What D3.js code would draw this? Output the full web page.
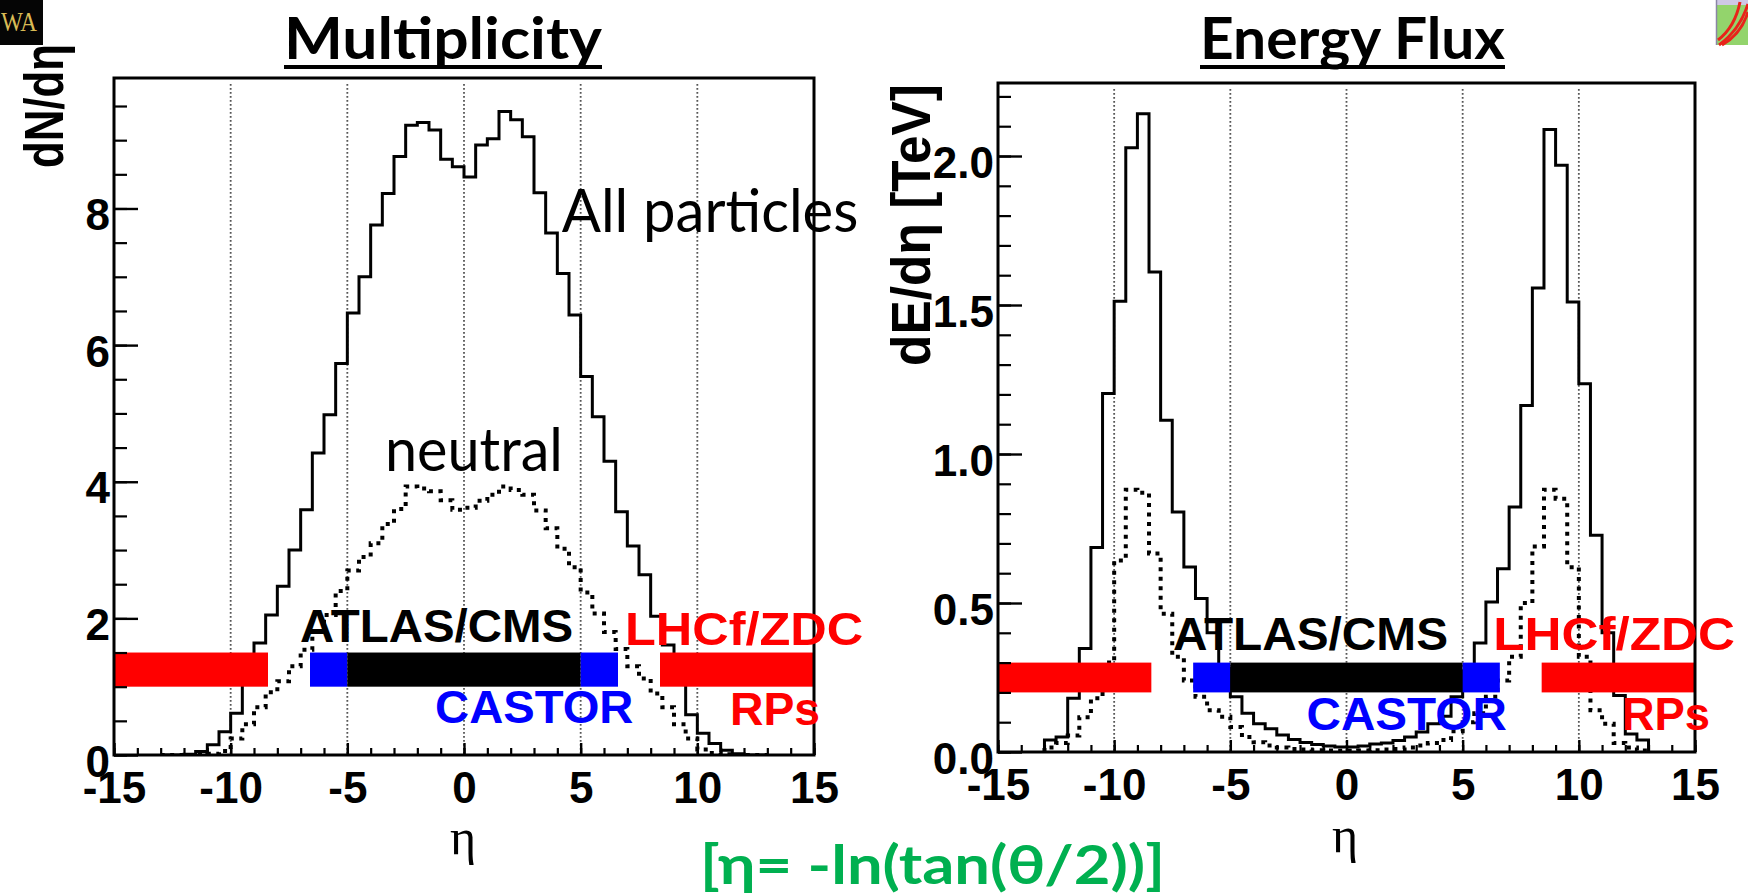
<!DOCTYPE html>
<html><head><meta charset="utf-8">
<script src="https://cdn.jsdelivr.net/npm/d3@7"></script>
<style>html,body{margin:0;padding:0;background:#fff;} svg{display:block;} text{font-variant-ligatures:none;font-feature-settings:"liga" 0,"clig" 0;}</style>
</head><body><svg id="c" width="1748" height="896"></svg>
<script>
// ---------- DATA ----------
// histogram bin lower edges in eta (bin width 0.5)
const etaBins = [-13,-12.5,-12,-11.5,-11,-10.5,-10,-9.5,-9,-8.5,
  -8,-7.5,-7,-6.5,-6,-5.5,-5,-4.5,-4,-3.5,
  -3,-2.5,-2,-1.5,-1,-0.5,0,0.5,1,1.5,
  2,2.5,3,3.5,4,4.5,5,5.5,6,6.5,
  7,7.5,8,8.5,9,9.5,10,10.5,11,11.5,
  12,12.5];
const etaBinWidth = 0.5;
// Multiplicity dN/deta, all particles
const multAll = [0,0,0.01,0.05,0.15,0.34,0.61,1.2,1.64,2.05,
  2.47,3.0,3.59,4.42,4.98,5.73,6.47,7.0,7.76,8.22,
  8.76,9.22,9.26,9.15,8.72,8.61,8.46,8.93,9.02,9.42,
  9.30,9.05,8.23,7.64,7.05,6.44,5.54,4.95,4.30,3.56,
  3.06,2.64,2.03,1.61,1.2,0.59,0.32,0.17,0.07,0.02,
  0,0];
// Multiplicity, neutral
const multNeutral = [0,0,0,0.01,0.02,0.06,0.24,0.45,0.7,0.92,
  1.08,1.3,1.54,1.8,2.05,2.4,2.7,2.9,3.1,3.38,
  3.6,3.93,3.9,3.86,3.73,3.59,3.62,3.72,3.81,3.93,
  3.88,3.81,3.58,3.32,3.02,2.75,2.38,2.07,1.8,1.55,
  1.3,1.12,0.9,0.7,0.45,0.24,0.08,0.03,0.01,0,
  0,0];
// Energy flux dE/deta [TeV], all particles
const energyAll = [0.04,0.05,0.18,0.347,0.686,1.203,1.513,2.028,2.142,1.611,
  1.113,0.805,0.621,0.515,0.40,0.28,0.185,0.13,0.095,0.078,
  0.057,0.042,0.032,0.025,0.02,0.017,0.017,0.02,0.027,0.03,
  0.039,0.05,0.067,0.095,0.12,0.185,0.27,0.366,0.503,0.615,
  0.822,1.163,1.557,2.089,1.969,1.51,1.236,0.727,0.40,0.19,
  0.06,0.04];
// Energy flux, neutral
const energyNeutral = [0.015,0.03,0.055,0.117,0.18,0.30,0.643,0.88,0.87,0.666,
  0.464,0.32,0.24,0.185,0.14,0.118,0.084,0.05,0.033,0.022,
  0.015,0.01,0.008,0.006,0.005,0.004,0.004,0.005,0.006,0.008,
  0.01,0.015,0.022,0.03,0.04,0.07,0.10,0.13,0.185,0.24,
  0.32,0.50,0.69,0.88,0.85,0.62,0.32,0.14,0.095,0.03,
  0.015,0.005];
// axis ticks
const xTickValues = [-15,-10,-5,0,5,10,15];
const gridEta = [-10,-5,0,5,10];
const multYTicks = [0,2,4,6,8];
const energyYTicks = [0,0.5,1.0,1.5,2.0];
// detector coverage (eta ranges)
const detLo = [-15,-6.6,-5,5,8.4];
const detHi = [-8.4,-5,5,6.6,15];
const detKind = ['fwd','castor','central','castor','fwd'];
// texts
const panelTitles = ['Multiplicity','Energy Flux'];
const yTitles = ['dN/d\u03B7','dE/d\u03B7 [TeV]'];
const xTitle = '\u03B7';
const footer = '[\u03B7= -ln(tan(\u03B8/2))]';

// ---------- LAYOUT / STYLE ----------
const detColor = {fwd:'#ff0000', castor:'#0000ff', central:'#000000'};
const svg = d3.select('#c');
svg.append('rect').attr('width',1748).attr('height',896).attr('fill','#fff');

const panels = [
  { left:114, right:814, top:78, bottom:755, yMax:9.91, yTicks:multYTicks, yMinorStep:0.5,
    fmt:d=>String(d), all:multAll, neu:multNeutral, band:[1.0,1.5],
    title:{x0:284,x1:602}, yTitle:{x:63,yEnd:44,len:124}, xTitle:{x:463,y:854},
    labels:[
      {t:'ATLAS/CMS', e0:-7.03, e1:4.68, v:1.654, c:'#000'},
      {t:'CASTOR', e0:-1.24, e1:7.26, v:0.464, c:'#0000ff'},
      {t:'LHCf/ZDC', e0:6.90, e1:17.11, v:1.61, c:'#ff0000'},
      {t:'RPs', e0:11.40, e1:15.26, v:0.44, c:'#ff0000'}
    ],
    notes:[
      {t:'All particles', e0:4.19, e1:16.9, v:7.66},
      {t:'neutral', e0:-3.39, e1:4.24, v:4.16}
    ]},
  { left:998, right:1695, top:83, bottom:752, yMax:2.245, yTicks:energyYTicks, yMinorStep:0.1,
    fmt:d3.format('.1f'), all:energyAll, neu:energyNeutral, band:[0.2,0.3],
    title:{x0:1200,x1:1505}, yTitle:{x:930,yEnd:84,len:282}, xTitle:{x:1345,y:852},
    labels:[
      {t:'ATLAS/CMS', e0:-7.47, e1:4.37, v:0.342, c:'#000'},
      {t:'CASTOR', e0:-1.72, e1:6.90, v:0.074, c:'#0000ff'},
      {t:'LHCf/ZDC', e0:6.32, e1:16.72, v:0.342, c:'#ff0000'},
      {t:'RPs', e0:11.85, e1:15.65, v:0.074, c:'#ff0000'}
    ],
    notes:[]}
];

const tickFont = "bold 44px 'Liberation Sans', Arial, sans-serif";

panels.forEach((p,pi) => {
  const x = d3.scaleLinear().domain([-15,15]).range([p.left,p.right]);
  const y = d3.scaleLinear().domain([0,p.yMax]).range([p.bottom,p.top]);
  const g = svg.append('g');
  const clipId = 'clip'+pi;
  svg.append('clipPath').attr('id',clipId).append('rect')
    .attr('x',p.left).attr('y',p.top).attr('width',p.right-p.left).attr('height',p.bottom-p.top);

  // grid
  g.append('g').selectAll('line').data(gridEta).join('line')
    .attr('x1',d=>x(d)).attr('x2',d=>x(d)).attr('y1',p.top+6).attr('y2',p.bottom)
    .attr('stroke','#555').attr('stroke-width',1.8).attr('stroke-dasharray','1.8,2.2');

  // histograms
  function stepPts(vals){
    const pts=[[etaBins[0],0]];
    vals.forEach((v,i)=>{ pts.push([etaBins[i],v]); pts.push([etaBins[i]+etaBinWidth,v]); });
    pts.push([etaBins[etaBins.length-1]+etaBinWidth,0]);
    return pts;
  }
  const line = d3.line().x(d=>x(d[0])).y(d=>y(d[1]));
  const hg = g.append('g').attr('clip-path',`url(#${clipId})`);
  hg.append('path').attr('d',line(stepPts(p.neu))).attr('fill','none')
    .attr('stroke','#000').attr('stroke-width',4).attr('stroke-dasharray','4,5.5');
  hg.append('path').attr('d',line(stepPts(p.all))).attr('fill','none')
    .attr('stroke','#000').attr('stroke-width',3).attr('stroke-linejoin','miter');

  // detector bars
  g.append('g').selectAll('rect').data(detLo.map((lo,i)=>({lo,hi:detHi[i],k:detKind[i]}))).join('rect')
    .attr('x',d=>x(d.lo)).attr('width',d=>x(d.hi)-x(d.lo))
    .attr('y',y(p.band[1])).attr('height',y(p.band[0])-y(p.band[1]))
    .attr('fill',d=>detColor[d.k]);

  // axes: minor ticks
  const xMinor = d3.range(-15,15.01,1);
  g.append('g').attr('transform',`translate(0,${p.bottom})`)
    .call(d3.axisBottom(x).tickValues(xMinor).tickSizeInner(-7).tickSizeOuter(0).tickFormat(''))
    .call(a=>a.select('.domain').remove())
    .call(a=>a.selectAll('line').attr('stroke','#000').attr('stroke-width',2.2));
  const yMinor = d3.range(0,p.yMax+1e-9,p.yMinorStep);
  g.append('g').attr('transform',`translate(${p.left},0)`)
    .call(d3.axisLeft(y).tickValues(yMinor).tickSizeInner(-13).tickSizeOuter(0).tickFormat(''))
    .call(a=>a.select('.domain').remove())
    .call(a=>a.selectAll('line').attr('stroke','#000').attr('stroke-width',2.2));
  // major ticks with labels
  g.append('g').attr('transform',`translate(0,${p.bottom})`)
    .call(d3.axisBottom(x).tickValues(xTickValues).tickSizeInner(-12).tickSizeOuter(0).tickPadding(17).tickFormat(d=>String(d)))
    .call(a=>a.select('.domain').remove())
    .call(a=>a.selectAll('line').attr('stroke','#000').attr('stroke-width',2.4))
    .call(a=>a.selectAll('text').attr('fill','#000').style('font',tickFont).attr('dy','0.71em'));
  g.append('g').attr('transform',`translate(${p.left},0)`)
    .call(d3.axisLeft(y).tickValues(p.yTicks).tickSizeInner(-24).tickSizeOuter(0).tickPadding(4).tickFormat(p.fmt))
    .call(a=>a.select('.domain').remove())
    .call(a=>a.selectAll('line').attr('stroke','#000').attr('stroke-width',2.4))
    .call(a=>a.selectAll('text').attr('fill','#000').style('font',tickFont).attr('dy','21px'));

  // frame
  g.append('rect').attr('x',p.left).attr('y',p.top).attr('width',p.right-p.left).attr('height',p.bottom-p.top)
    .attr('fill','none').attr('stroke','#000').attr('stroke-width',3);

  // annotation labels
  p.labels.forEach(l=>{
    g.append('text').attr('x',x(l.e0)).attr('y',y(l.v))
      .attr('textLength',x(l.e1)-x(l.e0)).attr('lengthAdjust','spacingAndGlyphs')
      .style('font',"bold 46px 'Liberation Sans', Arial, sans-serif").attr('fill',l.c).text(l.t);
  });
  p.notes.forEach(l=>{
    g.append('text').attr('x',x(l.e0)).attr('y',y(l.v))
      .attr('textLength',x(l.e1)-x(l.e0)).attr('lengthAdjust','spacingAndGlyphs')
      .style('font',"60px Lato, 'Open Sans', sans-serif").attr('fill','#000').text(l.t);
  });

  // panel title (underlined)
  svg.append('text').attr('x',p.title.x0).attr('y',59)
    .attr('textLength',p.title.x1-p.title.x0).attr('lengthAdjust','spacingAndGlyphs')
    .style('font',"bold 57px Lato, sans-serif").attr('fill','#000').text(panelTitles[pi]);
  svg.append('rect').attr('x',p.title.x0).attr('y',65).attr('width',p.title.x1-p.title.x0).attr('height',4).attr('fill','#000');

  // y title
  svg.append('text').attr('transform',`translate(${p.yTitle.x},${p.yTitle.yEnd}) rotate(-90)`)
    .attr('text-anchor','end').attr('textLength',p.yTitle.len).attr('lengthAdjust','spacingAndGlyphs')
    .style('font',"bold 55px 'Liberation Sans', Arial, sans-serif").attr('fill','#000').text(yTitles[pi]);
  // x title
  svg.append('text').attr('x',p.xTitle.x).attr('y',p.xTitle.y).attr('text-anchor','middle')
    .style('font',"50px 'Liberation Serif', serif").attr('fill','#000').text(xTitle);
});

// footer formula
svg.append('text').attr('x',700).attr('y',884).attr('textLength',465).attr('lengthAdjust','spacingAndGlyphs')
  .style('font',"bold 54px Lato, sans-serif").attr('fill','#00b050').text(footer);

// corner logos
const lg = svg.append('g');
lg.append('rect').attr('x',0).attr('y',0).attr('width',43).attr('height',45).attr('fill','#050505');
lg.append('text').attr('x',1).attr('y',31).attr('textLength',36).attr('lengthAdjust','spacingAndGlyphs')
  .style('font',"28px 'Liberation Serif', serif").attr('fill','#d9bb55').text('WA');
const rg = svg.append('g');
rg.append('rect').attr('x',1716).attr('y',0).attr('width',32).attr('height',45).attr('fill','#93d46c');
rg.append('rect').attr('x',1716).attr('y',0).attr('width',32).attr('height',5).attr('fill','#cfc8e6');
rg.append('line').attr('x1',1716.5).attr('x2',1716.5).attr('y1',0).attr('y2',45).attr('stroke','#8a86a6').attr('stroke-width',1.5);
[[1719,45,1748,4],[1722,45,1748,12],[1718,40,1740,2]].forEach(c=>{
  rg.append('path').attr('d',`M${c[0]},${c[1]} Q${(c[0]+c[2])/2+6},${(c[1]+c[3])/2+6} ${c[2]},${c[3]}`)
    .attr('fill','none').attr('stroke','#e8231a').attr('stroke-width',3);
});
</script>
</body></html>
